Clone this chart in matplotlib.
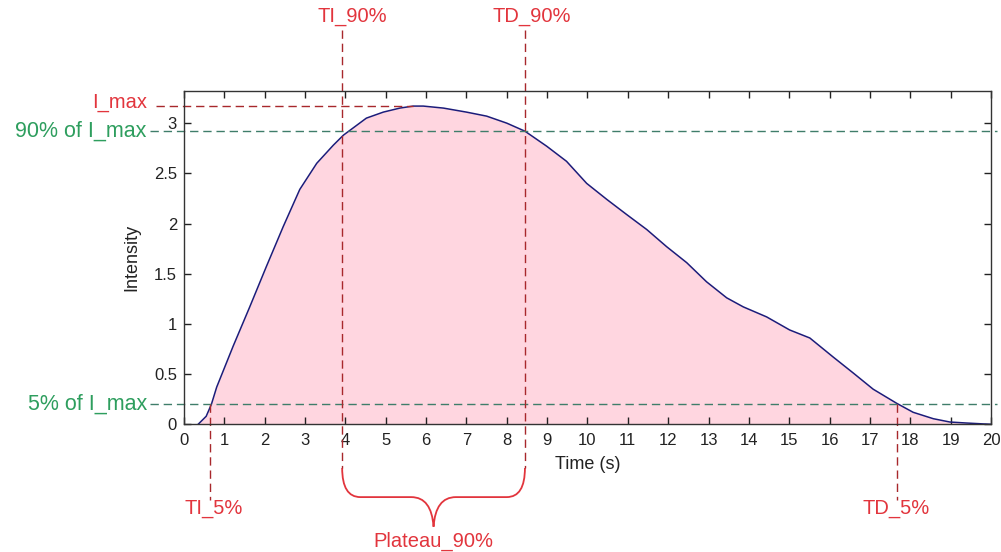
import matplotlib
matplotlib.use("Agg")
import matplotlib.pyplot as plt
import numpy as np
from matplotlib.path import Path
from matplotlib.patches import PathPatch

plt.rcParams['font.family'] = ['Liberation Sans', 'DejaVu Sans']

# Intensity curve
time_s = [0.0, 0.35, 0.55, 0.68, 0.81, 1.22, 1.63, 2.04, 2.46, 2.87, 3.29, 3.70,
          3.95, 4.52, 4.94, 5.35, 5.68, 5.93, 6.43, 7.0, 7.5, 8.0, 8.45, 8.99,
          9.48, 9.98, 10.48, 10.97, 11.47, 11.96, 12.46, 12.95, 13.45, 13.86,
          14.44, 15.01, 15.51, 16.09, 16.59, 17.08, 17.66, 18.07, 18.57, 18.98,
          19.39, 20.0]
intensity = [0.0, 0.0, 0.08, 0.2, 0.37, 0.78, 1.17, 1.57, 1.97, 2.34, 2.60, 2.78,
             2.88, 3.05, 3.11, 3.15, 3.17, 3.17, 3.15, 3.11, 3.07, 3.00, 2.92, 2.77,
             2.62, 2.40, 2.24, 2.09, 1.94, 1.77, 1.61, 1.42, 1.26, 1.17,
             1.07, 0.94, 0.86, 0.67, 0.51, 0.35, 0.21, 0.12, 0.056, 0.023,
             0.013, 0.0]

# Threshold levels and crossing times
i_max = 3.17
level_90 = 2.92
level_5 = 0.205
t_i5, t_i90, t_d90, t_d5 = 0.64, 3.92, 8.45, 17.66

red_txt = '#e2353d'
red_line = '#a8282c'
green_txt = '#2e9e5e'
green_line = '#3f7d6a'

t = np.array(time_s)
y = np.array(intensity)
t_peak = t[np.argmax(y)]

fig = plt.figure(figsize=(10.01, 5.52), dpi=100)
ax = fig.add_axes([0.1838, 0.2313, 0.8062, 0.6038])

ax.fill_between(t, y, 0, where=t >= 0.35, color='#ffd6e0', lw=0)
ax.plot(t[1:], y[1:], color='#1c1c7a', lw=1.1)

ax.set_xlim(0, 20)
ax.set_ylim(0, 3.32)
ax.set_xticks(range(0, 21))
ax.set_yticks([0, 0.5, 1, 1.5, 2, 2.5, 3])
ax.set_yticklabels(['0', '0.5', '1', '1.5', '2', '2.5', '3'])
ax.tick_params(direction='in', length=5, width=1, top=True, right=True,
               labelsize=12, colors='#222222')
ax.tick_params(axis='x', pad=6)
ax.tick_params(axis='y', pad=5)
for s in ax.spines.values():
    s.set_color('#333333')
    s.set_linewidth(1)

ax.set_xlabel('Time (s)', fontsize=13, va='center', color='#222222')
ax.xaxis.set_label_coords(0.5, -0.122)
ax.set_ylabel('Intensity', fontsize=13, va='center', color='#222222')
ax.yaxis.set_label_coords(-0.065, 0.5)

dash = (0, (6, 3.5))

# horizontal reference levels
ax.plot([-0.69, t_peak], [i_max, i_max], color=red_line, lw=1, ls=dash, clip_on=False)
ax.plot([-0.84, 20.15], [level_90, level_90], color=green_line, lw=1, ls=dash, clip_on=False)
ax.plot([-0.84, 20.15], [level_5, level_5], color=green_line, lw=1, ls=dash, clip_on=False)

# vertical markers
for tv in (t_i90, t_d90):
    ax.plot([tv, tv], [3.93, -0.435], color=red_line, lw=1, ls=dash, clip_on=False)
for tv in (t_i5, t_d5):
    ax.plot([tv, tv], [level_5, -0.75], color=red_line, lw=1, ls=dash, clip_on=False)

# curly brace under the plateau
mid = (t_i90 + t_d90) / 2
yb0, yb1, ytip = -0.435, -0.725, -1.02
verts = [(t_i90, yb0), (t_i90, yb1), (t_i90 + 0.45, yb1),
         (mid - 0.55, yb1), (mid - 0.05, yb1), (mid, ytip),
         (mid + 0.05, yb1), (mid + 0.55, yb1),
         (t_d90 - 0.45, yb1), (t_d90, yb1), (t_d90, yb0)]
codes = [Path.MOVETO, Path.CURVE3, Path.CURVE3,
         Path.LINETO, Path.CURVE3, Path.CURVE3,
         Path.CURVE3, Path.CURVE3,
         Path.LINETO, Path.CURVE3, Path.CURVE3]
ax.add_patch(PathPatch(Path(verts, codes), fill=False, ec=red_txt, lw=1.3,
                       clip_on=False))

fs = 14.5
ax.text(t_i90 + 0.25, 4.06, 'TI_90%', color=red_txt, fontsize=fs, ha='center', va='center')
ax.text(t_d90 + 0.18, 4.06, 'TD_90%', color=red_txt, fontsize=fs, ha='center', va='center')
ax.text(t_i5 + 0.1, -0.835, 'TI_5%', color=red_txt, fontsize=fs, ha='center', va='center')
ax.text(t_d5, -0.835, 'TD_5%', color=red_txt, fontsize=fs, ha='center', va='center')
ax.text(mid, -1.17, 'Plateau_90%', color=red_txt, fontsize=fs, ha='center', va='center')
ax.text(-0.92, i_max + 0.04, 'I_max', color=red_txt, fontsize=fs, ha='right', va='center')
ax.text(-0.92, level_90, '90% of I_max', color=green_txt, fontsize=15.5, ha='right', va='center')
ax.text(-0.92, level_5, '5% of I_max', color=green_txt, fontsize=15.5, ha='right', va='center')

fig.savefig('out.png', dpi=100)
